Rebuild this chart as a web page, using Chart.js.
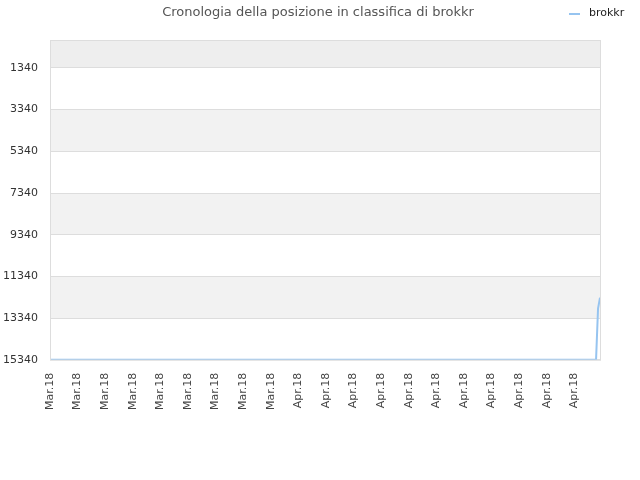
<!DOCTYPE html>
<html>
<head>
<meta charset="utf-8">
<script src="https://cdn.jsdelivr.net/npm/chart.js@4/dist/chart.umd.min.js"></script>
<style>
    html, body { margin: 0; padding: 0; background: #fff; }
    #wrap { width: 640px; height: 480px; }
</style>
</head>
<body>
<div id="wrap"><canvas id="rankChart" width="640" height="480"></canvas></div>
<script>
// tick labels on the x axis, one every 14 samples
const tickLabels = [
    "Mar.18", "Mar.18", "Mar.18", "Mar.18", "Mar.18", "Mar.18", "Mar.18", "Mar.18", "Mar.18",
    "Apr.18", "Apr.18", "Apr.18", "Apr.18", "Apr.18", "Apr.18", "Apr.18", "Apr.18", "Apr.18", "Apr.18", "Apr.18"
];
const samplesPerTick = 14;

const yTickValues = [1340, 3340, 5340, 7340, 9340, 11340, 13340, 15340];

// rank position of brokkr (lower is better)
const rankBrokkr = [
    15340, 15340, 15340, 15340, 15340, 15340, 15340, 15340, 15340, 15340, 15340, 15340, 15340, 15340, 15340, 15340, 15340, 15340, 15340, 15340,
    15340, 15340, 15340, 15340, 15340, 15340, 15340, 15340, 15340, 15340, 15340, 15340, 15340, 15340, 15340, 15340, 15340, 15340, 15340, 15340,
    15340, 15340, 15340, 15340, 15340, 15340, 15340, 15340, 15340, 15340, 15340, 15340, 15340, 15340, 15340, 15340, 15340, 15340, 15340, 15340,
    15340, 15340, 15340, 15340, 15340, 15340, 15340, 15340, 15340, 15340, 15340, 15340, 15340, 15340, 15340, 15340, 15340, 15340, 15340, 15340,
    15340, 15340, 15340, 15340, 15340, 15340, 15340, 15340, 15340, 15340, 15340, 15340, 15340, 15340, 15340, 15340, 15340, 15340, 15340, 15340,
    15340, 15340, 15340, 15340, 15340, 15340, 15340, 15340, 15340, 15340, 15340, 15340, 15340, 15340, 15340, 15340, 15340, 15340, 15340, 15340,
    15340, 15340, 15340, 15340, 15340, 15340, 15340, 15340, 15340, 15340, 15340, 15340, 15340, 15340, 15340, 15340, 15340, 15340, 15340, 15340,
    15340, 15340, 15340, 15340, 15340, 15340, 15340, 15340, 15340, 15340, 15340, 15340, 15340, 15340, 15340, 15340, 15340, 15340, 15340, 15340,
    15340, 15340, 15340, 15340, 15340, 15340, 15340, 15340, 15340, 15340, 15340, 15340, 15340, 15340, 15340, 15340, 15340, 15340, 15340, 15340,
    15340, 15340, 15340, 15340, 15340, 15340, 15340, 15340, 15340, 15340, 15340, 15340, 15340, 15340, 15340, 15340, 15340, 15340, 15340, 15340,
    15340, 15340, 15340, 15340, 15340, 15340, 15340, 15340, 15340, 15340, 15340, 15340, 15340, 15340, 15340, 15340, 15340, 15340, 15340, 15340,
    15340, 15340, 15340, 15340, 15340, 15340, 15340, 15340, 15340, 15340, 15340, 15340, 15340, 15340, 15340, 15340, 15340, 15340, 15340, 15340,
    15340, 15340, 15340, 15340, 15340, 15340, 15340, 15340, 15340, 15340, 15340, 15340, 15340, 15340, 15340, 15340, 15340, 15340, 15340, 15340,
    15340, 15340, 15340, 15340, 15340, 15340, 15340, 15340, 15340, 15340, 15340, 15340, 15340, 15340, 15340, 15340, 15340, 15340, 12890, 12360
];

const chartTitle = "Cronologia della posizione in classifica di brokkr";
const seriesName = "brokkr";
const lineColor = "rgba(150, 196, 240, 1)";

document.addEventListener("DOMContentLoaded", () => {
    const labels = rankBrokkr.map((v, i) => tickLabels[Math.floor(i / samplesPerTick)]);

    // alternating grey bands, plot border, title and legend drawn by hand
    const bandsPlugin = {
        id: "bands",
        beforeDraw(chart) {
            const { ctx, chartArea: a, scales: { y } } = chart;
            const edges = [y.min].concat(yTickValues);
            ctx.save();
            for (let i = 0; i < edges.length - 1; i++) {
                if (i % 2 === 1) continue;
                const top = y.getPixelForValue(edges[i]);
                const bottom = y.getPixelForValue(edges[i + 1]);
                ctx.fillStyle = i === 0 ? "#eeeeee" : "#f2f2f2";
                ctx.fillRect(a.left, top, a.right - a.left, bottom - top);
            }
            ctx.restore();
        },
        afterDraw(chart) {
            const { ctx, chartArea: a } = chart;
            ctx.save();
            ctx.strokeStyle = "#dddddd";
            ctx.lineWidth = 1;
            ctx.strokeRect(a.left + 0.5, a.top + 0.5, a.right - a.left, a.bottom - a.top);

            ctx.fillStyle = "#555";
            ctx.font = "13px 'DejaVu Sans'";
            ctx.textAlign = "center";
            ctx.textBaseline = "middle";
            ctx.fillText(chartTitle, 318, 13);

            ctx.strokeStyle = lineColor;
            ctx.lineWidth = 2;
            ctx.beginPath();
            ctx.moveTo(569, 14);
            ctx.lineTo(580, 14);
            ctx.stroke();
            ctx.fillStyle = "#222";
            ctx.font = "11px 'DejaVu Sans'";
            ctx.textAlign = "left";
            ctx.fillText(seriesName, 589, 13);
            ctx.restore();
        }
    };

    const ctx = document.getElementById("rankChart").getContext("2d");
    new Chart(ctx, {
        type: "line",
        data: {
            labels: labels,
            datasets: [{
                label: seriesName,
                data: rankBrokkr,
                borderColor: lineColor,
                borderWidth: 2,
                pointRadius: 0,
                tension: 0,
                fill: false
            }]
        },
        options: {
            responsive: false,
            animation: false,
            layout: { padding: { left: -9, right: 40, top: 40, bottom: 57 } },
            plugins: {
                legend: { display: false },
                tooltip: { enabled: false },
                title: { display: false }
            },
            scales: {
                x: {
                    grid: { display: false, drawTicks: false },
                    border: { display: false },
                    ticks: {
                        autoSkip: false,
                        maxRotation: 90,
                        minRotation: 90,
                        padding: 13,
                        color: "#444",
                        font: { family: "'DejaVu Sans'", size: 11 },
                        callback: (v, i) => i % samplesPerTick === 0 ? labels[i] : null
                    }
                },
                y: {
                    reverse: true,
                    min: 0,
                    max: 15340,
                    afterBuildTicks: axis => {
                        axis.ticks = yTickValues.map(v => ({ value: v }));
                    },
                    grid: { color: "#dddddd", drawTicks: false },
                    border: { display: false },
                    ticks: {
                        padding: 12,
                        color: "#333",
                        font: { family: "'DejaVu Sans'", size: 11 },
                        callback: v => String(v)
                    }
                }
            }
        },
        plugins: [bandsPlugin]
    });
});
</script>
</body>
</html>
